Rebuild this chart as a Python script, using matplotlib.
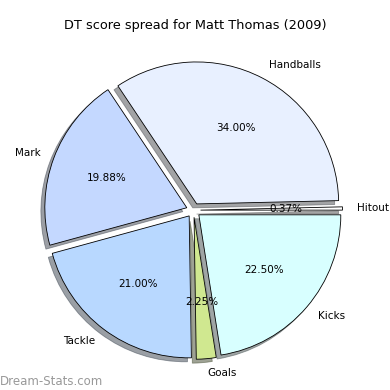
import matplotlib
matplotlib.use('Agg')
import matplotlib.pyplot as plt

# DT score spread for Matt Thomas, 2009
labels = ['Hitout', 'Handballs', 'Mark', 'Tackle', 'Goals', 'Kicks']
shares = [0.37, 34.00, 19.88, 21.00, 2.25, 22.50]
colours = ['#ffffff', '#e8f0ff', '#c4d8ff', '#b8d8ff', '#d0e890', '#d8ffff']
explode = [0.05, 0.05, 0.05, 0.05, 0.05, 0.05]

fig = plt.figure(figsize=(3.9, 3.9), dpi=100)
ax = fig.add_axes([0.041, 0.006, 0.91, 0.91])

wedges, texts, autotexts = ax.pie(shares, labels=labels, colors=colours,
                                  explode=explode, autopct='%1.2f%%',
                                  shadow=True, startangle=0,
                                  wedgeprops={'edgecolor': 'black', 'linewidth': 0.6},
                                  textprops={'fontsize': 7.5})
ax.set_aspect('equal')
ax.set_xlim(-1.25, 1.25)
ax.set_ylim(-1.25, 1.25)

fig.text(0.5, 1 - 25 / 390, 'DT score spread for Matt Thomas (2009)',
         ha='center', va='center', fontsize=9.3)
fig.text(0.0, 0.012, 'Dream-Stats.com', color='#999999', fontsize=8.5)

fig.savefig('out.png', dpi=100)
